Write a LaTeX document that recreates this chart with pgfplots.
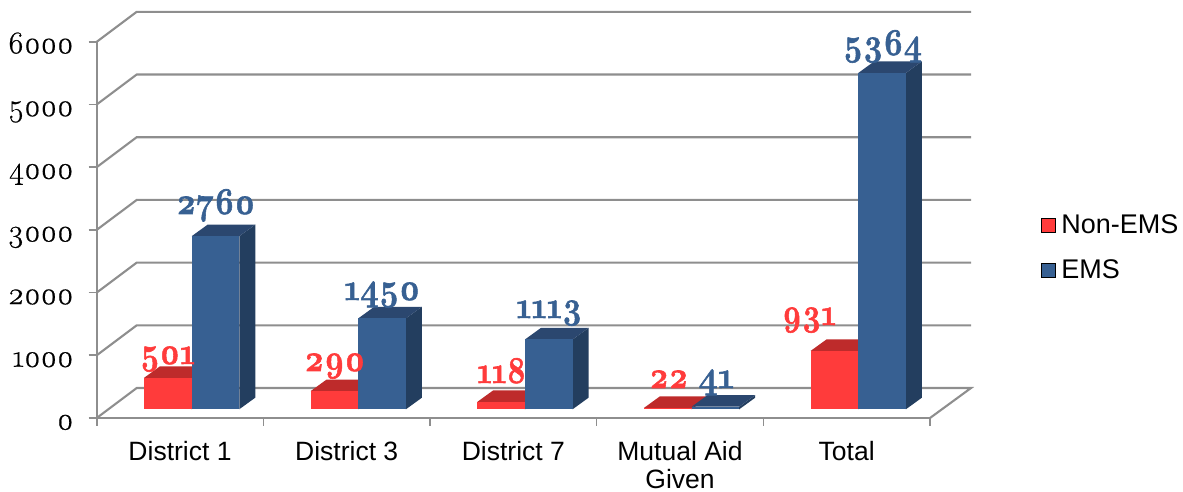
\documentclass[border=0pt]{standalone}
\usepackage{fontspec}
\setmainfont{Liberation Sans}
\newfontfamily\oldf[Numbers=OldStyle,FakeBold=0.6]{Latin Modern Roman}
\newfontfamily\oldb[Numbers=OldStyle,BoldFeatures={FakeBold=1.6}]{Latin Modern Roman}
\usepackage{pgfplots}
\pgfplotsset{compat=1.18}
\definecolor{redf}{HTML}{FF3B3B}
\definecolor{redt}{HTML}{BE2B2B}
\definecolor{reds}{HTML}{A82626}
\definecolor{bluef}{HTML}{376092}
\definecolor{bluet}{HTML}{2B476F}
\definecolor{blues}{HTML}{233E5F}
\definecolor{gridc}{HTML}{8E8E8E}
% #1 left edge (category units), #2 value, #3 front, #4 top, #5 side
\newcommand\threedbar[5]{%
  \pgfmathsetmacro\xa{#1}%
  \pgfmathsetmacro\xb{#1+0.2858}%
  \pgfmathsetmacro\xc{#1+0.2858+0.096}%
  \pgfmathsetmacro\xd{#1+0.096}%
  \pgfmathsetmacro\ya{139}%
  \pgfmathsetmacro\yb{139+#2}%
  \pgfmathsetmacro\yc{139+#2+185}%
  \pgfmathsetmacro\yd{139+185}%
  \edef\temp{%
    \noexpand\addplot[fill=#5,draw=none,forget plot] coordinates {(\xb,\ya)(\xc,\yd)(\xc,\yc)(\xb,\yb)} --cycle;
    \noexpand\addplot[fill=#4,draw=none,forget plot] coordinates {(\xa,\yb)(\xb,\yb)(\xc,\yc)(\xd,\yc)} --cycle;
    \noexpand\addplot[fill=#3,draw=none,forget plot] coordinates {(\xa,\ya)(\xb,\ya)(\xb,\yb)(\xa,\yb)} --cycle;
  }\temp
}
% data label: left px, right px, baseline px, colour, text
\newcommand\dl[6][38]{%
  \pgfmathsetmacro\lblw{#3-#2}%
  \node[anchor=base west,inner sep=0pt,text=#5] at (#2pt,492pt-#4pt)
    {\resizebox{\lblw pt}{\height}{\oldb\bfseries\fontsize{#1}{#1}\selectfont #6}};%
}
\begin{document}
\begin{tikzpicture}[x=1pt,y=1pt]
\useasboundingbox (0,0) rectangle (1183,492);
\begin{axis}[
  at={(96.7pt,74pt)}, anchor=origin,
  scale only axis, width=833.3pt, height=376.2pt,
  xmin=0, xmax=5, ymin=0, ymax=6000,
  clip=false,
  axis lines=left,
  axis line style={-, gridc, line width=2.1pt},
  tick style={gridc, line width=1.6pt},
  major tick length=8pt,
  tick align=outside,
  xtick={0,1,2,3,4,5},
  x tick label as interval=true,
  xticklabels={District 1,District 3,District 7,{Mutual Aid\\Given},Total},
  x tick label style={font=\fontsize{26.5}{28}\selectfont, align=center, anchor=north, yshift=-11.5pt},
  ytick={0,1000,2000,3000,4000,5000,6000},
  y tick label style={font=\oldf\fontsize{31.5}{31.5}\selectfont, anchor=base east, inner sep=0pt, yshift=-11.5pt, xshift=-15pt,
     /pgf/number format/assume math mode=true, /pgf/number format/1000 sep={}},
  scaled y ticks=false,
  legend style={at={(axis cs:5.665,3277)}, anchor=north west, draw=none, fill=none, inner sep=0pt,
     font=\fontsize{27}{28}\selectfont, row sep=21pt, cells={anchor=west}},
  legend image code/.code={\fill[#1] (0pt,-7pt) rectangle (14pt,7pt); \path (18pt,0pt);},
]
% walls and floor
\addplot[gridc,line width=2.1pt,forget plot] coordinates {(0,0)(0.24,478)(5.246,478)(5,0)};
\addplot[gridc,line width=2.1pt,forget plot] coordinates {(0,1000)(0.24,1478)(5.246,1478)};
\addplot[gridc,line width=2.1pt,forget plot] coordinates {(0,2000)(0.24,2478)(5.246,2478)};
\addplot[gridc,line width=2.1pt,forget plot] coordinates {(0,3000)(0.24,3478)(5.246,3478)};
\addplot[gridc,line width=2.1pt,forget plot] coordinates {(0,4000)(0.24,4478)(5.246,4478)};
\addplot[gridc,line width=2.1pt,forget plot] coordinates {(0,5000)(0.24,5478)(5.246,5478)};
\addplot[gridc,line width=2.1pt,forget plot] coordinates {(0,6000)(0.24,6478)(5.246,6478)};
% bars
\threedbar{0.2838}{501}{redf}{redt}{reds}
\threedbar{0.5696}{2760}{bluef}{bluet}{blues}
\threedbar{1.2838}{290}{redf}{redt}{reds}
\threedbar{1.5696}{1450}{bluef}{bluet}{blues}
\threedbar{2.2838}{118}{redf}{redt}{reds}
\threedbar{2.5696}{1113}{bluef}{bluet}{blues}
\threedbar{3.2838}{22}{redf}{redt}{reds}
\threedbar{3.5696}{41}{bluef}{bluet}{blues}
\threedbar{4.2838}{931}{redf}{redt}{reds}
\threedbar{4.5696}{5364}{bluef}{bluet}{blues}
\addlegendimage{fill=redf}
\addlegendentry{Non-EMS}
\addlegendimage{fill=bluef}
\addlegendentry{EMS}
\end{axis}
\dl{140}{195}{364}{redf}{501}
\dl{176}{255}{214}{bluef}{2760}
\dl{304}{365}{371}{redf}{290}
\dl{344}{420}{300}{bluef}{1450}
\dl{477}{526}{383}{redf}{118}
\dl{516}{582}{318}{bluef}{1113}
\dl{649}{688}{388}{redf}{22}
\dl{698}{734}{388}{bluef}{41}
\dl{782}{836}{325}{redf}{931}
\dl{843}{922}{55}{bluef}{5364}
\end{tikzpicture}
\end{document}
